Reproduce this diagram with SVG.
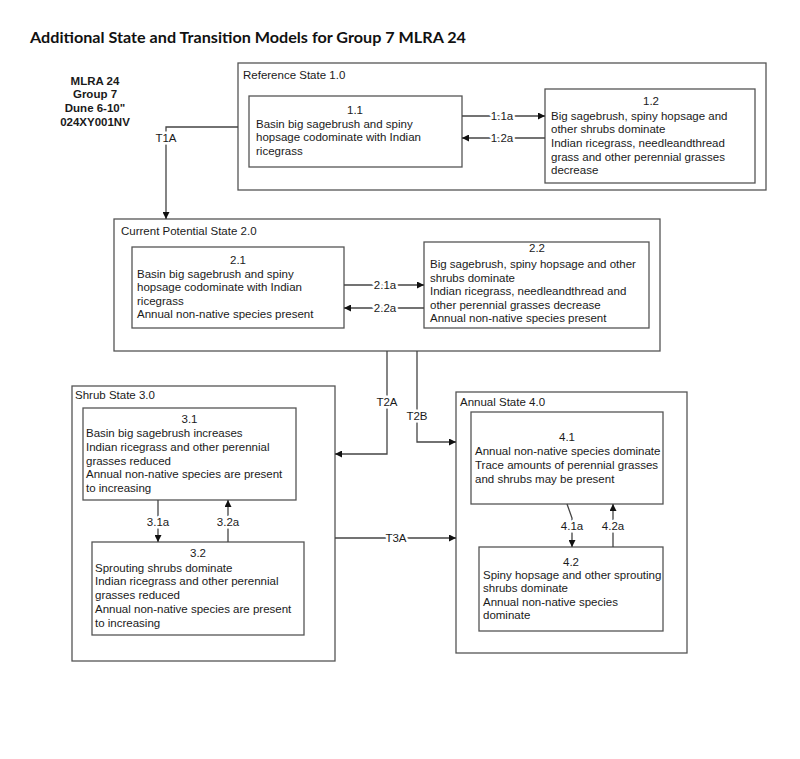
<svg xmlns="http://www.w3.org/2000/svg" width="800" height="759" viewBox="0 0 800 759">
<defs>
<style>
.box{fill:#fff;stroke:#555;stroke-width:1.3}
.t{font-family:"Liberation Sans",Arial,sans-serif;font-size:11.5px;fill:#1a1a1a}
.c{text-anchor:middle}
.lbl{font-family:"Liberation Sans",Arial,sans-serif;font-size:11.5px;fill:#1a1a1a;text-anchor:middle;stroke:#fff;stroke-width:5;paint-order:stroke;stroke-linejoin:round}
.ln{fill:none;stroke:#444;stroke-width:1.3}
.hd{font-family:"Liberation Sans",Arial,sans-serif;font-size:11.5px;font-weight:bold;fill:#1a1a1a;text-anchor:middle}
</style>
<marker id="arr" viewBox="0 0 10 10" refX="10" refY="5" markerUnits="userSpaceOnUse" markerWidth="8" markerHeight="7" orient="auto">
<path d="M0,0 L10,5 L0,10 z" fill="#111"/>
</marker>
</defs>
<rect width="800" height="759" fill="#fff"/>

<text x="30" y="43" font-family="Lato,'Open Sans',sans-serif" font-weight="bold" font-size="15" fill="#111" textLength="436" lengthAdjust="spacingAndGlyphs">Additional State and Transition Models for Group 7 MLRA 24</text>

<g id="site-label">
<text class="hd" x="95" y="85">MLRA 24</text>
<text class="hd" x="95" y="98">Group 7</text>
<text class="hd" x="95" y="112">Dune 6-10"</text>
<text class="hd" x="95" y="126">024XY001NV</text>
</g>

<g id="state-1">
<rect class="box" x="238" y="63" width="528" height="127"/>
<text class="t" x="243" y="79">Reference State 1.0</text>
</g>
<g id="state-2">
<rect class="box" x="114" y="219" width="546" height="132"/>
<text class="t" x="121" y="235">Current Potential State 2.0</text>
</g>
<g id="state-3">
<rect class="box" x="72" y="386" width="263" height="275"/>
<text class="t" x="75" y="399">Shrub State 3.0</text>
</g>
<g id="state-4">
<rect class="box" x="456" y="392" width="231" height="261"/>
<text class="t" x="460" y="406">Annual State 4.0</text>
</g>

<g id="community-1-1">
<rect class="box" x="249" y="96" width="213" height="71"/>
<text class="t c" x="355" y="114">1.1</text>
<text class="t" x="256" y="127.6">Basin big sagebrush and spiny</text>
<text class="t" x="256" y="141.2">hopsage codominate with Indian</text>
<text class="t" x="256" y="154.8">ricegrass</text>
</g>
<g id="community-1-2">
<rect class="box" x="545" y="89" width="210" height="94"/>
<text class="t c" x="651" y="104.7">1.2</text>
<text class="t" x="551" y="119.7">Big sagebrush, spiny hopsage and</text>
<text class="t" x="551" y="133.3">other shrubs dominate</text>
<text class="t" x="551" y="146.9">Indian ricegrass, needleandthread</text>
<text class="t" x="551" y="160.5">grass and other perennial grasses</text>
<text class="t" x="551" y="174.1">decrease</text>
</g>
<g id="community-2-1">
<rect class="box" x="132" y="247" width="212" height="81"/>
<text class="t c" x="238" y="264">2.1</text>
<text class="t" x="137" y="277.6">Basin big sagebrush and spiny</text>
<text class="t" x="137" y="291.2">hopsage codominate with Indian</text>
<text class="t" x="137" y="304.8">ricegrass</text>
<text class="t" x="137" y="318.4">Annual non-native species present</text>
</g>
<g id="community-2-2">
<rect class="box" x="424" y="242" width="225" height="86"/>
<text class="t c" x="537" y="252.3">2.2</text>
<text class="t" x="430" y="268.3">Big sagebrush, spiny hopsage and other</text>
<text class="t" x="430" y="281.8">shrubs dominate</text>
<text class="t" x="430" y="295.3">Indian ricegrass, needleandthread and</text>
<text class="t" x="430" y="308.8">other perennial grasses decrease</text>
<text class="t" x="430" y="322.3">Annual non-native species present</text>
</g>
<g id="community-3-1">
<rect class="box" x="83" y="408" width="213" height="92"/>
<text class="t c" x="189.5" y="423">3.1</text>
<text class="t" x="86" y="437.3">Basin big sagebrush increases</text>
<text class="t" x="86" y="451">Indian ricegrass and other perennial</text>
<text class="t" x="86" y="464.7">grasses reduced</text>
<text class="t" x="86" y="478.4">Annual non-native species are present</text>
<text class="t" x="86" y="492.1">to increasing</text>
</g>
<g id="community-3-2">
<rect class="box" x="92" y="542" width="212" height="93"/>
<text class="t c" x="198" y="557.3">3.2</text>
<text class="t" x="95" y="571.5">Sprouting shrubs dominate</text>
<text class="t" x="95" y="585.3">Indian ricegrass and other perennial</text>
<text class="t" x="95" y="599.1">grasses reduced</text>
<text class="t" x="95" y="612.9">Annual non-native species are present</text>
<text class="t" x="95" y="626.7">to increasing</text>
</g>
<g id="community-4-1">
<rect class="box" x="471" y="412" width="192" height="92"/>
<text class="t c" x="567" y="440.7">4.1</text>
<text class="t" x="475" y="455.4">Annual non-native species dominate</text>
<text class="t" x="475" y="469.1">Trace amounts of perennial grasses</text>
<text class="t" x="475" y="482.8">and shrubs may be present</text>
</g>
<g id="community-4-2">
<rect class="box" x="479" y="547" width="184" height="84"/>
<text class="t c" x="571" y="565.7">4.2</text>
<text class="t" x="483" y="578.5">Spiny hopsage and other sprouting</text>
<text class="t" x="483" y="592">shrubs dominate</text>
<text class="t" x="483" y="605.5">Annual non-native species</text>
<text class="t" x="483" y="619">dominate</text>
</g>

<g id="connectors">
<polyline class="ln" points="238,127 166,127 166,219" marker-end="url(#arr)"/>
<text class="lbl" x="166" y="142">T1A</text>
<line class="ln" x1="462" y1="116" x2="545" y2="116" marker-end="url(#arr)"/>
<text class="lbl" x="502" y="120">1.1a</text>
<line class="ln" x1="545" y1="138" x2="462" y2="138" marker-end="url(#arr)"/>
<text class="lbl" x="502" y="142">1.2a</text>
<line class="ln" x1="344" y1="285" x2="424" y2="285" marker-end="url(#arr)"/>
<text class="lbl" x="385" y="289">2.1a</text>
<line class="ln" x1="424" y1="308" x2="344" y2="308" marker-end="url(#arr)"/>
<text class="lbl" x="385" y="312">2.2a</text>
<polyline class="ln" points="387,351 387,454 335,454" marker-end="url(#arr)"/>
<text class="lbl" x="387" y="406">T2A</text>
<polyline class="ln" points="417,351 417,442 456,442" marker-end="url(#arr)"/>
<text class="lbl" x="417" y="420">T2B</text>
<line class="ln" x1="335" y1="538" x2="456" y2="538" marker-end="url(#arr)"/>
<text class="lbl" x="396" y="542">T3A</text>
<line class="ln" x1="158" y1="500" x2="158" y2="542" marker-end="url(#arr)"/>
<text class="lbl" x="158" y="526">3.1a</text>
<line class="ln" x1="228" y1="542" x2="228" y2="500" marker-end="url(#arr)"/>
<text class="lbl" x="228" y="526">3.2a</text>
<polyline class="ln" points="567,504 572,518 572,547" marker-end="url(#arr)"/>
<text class="lbl" x="572" y="530">4.1a</text>
<line class="ln" x1="613" y1="547" x2="613" y2="504" marker-end="url(#arr)"/>
<text class="lbl" x="613" y="530">4.2a</text>
</g>
</svg>
